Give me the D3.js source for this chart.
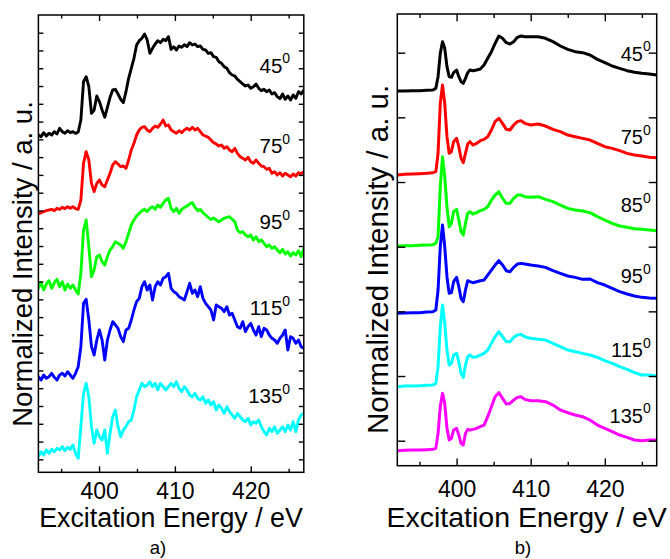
<!DOCTYPE html>
<html><head><meta charset="utf-8">
<script src="https://cdn.jsdelivr.net/npm/d3@7"></script>
<style>
body{margin:0;background:#fff}
svg{display:block}
text{font-family:"Liberation Sans",Arial,Helvetica,sans-serif;fill:#000}
</style></head><body>
<svg id="chart" width="670" height="559"></svg>
<script>
// ---------- DATA ----------
// panel a: energy grid (eV) and noisy spectra (arbitrary units, stacked)
const energyA = d3.range(0, 101).map(i => +(392 + 0.35 * i).toFixed(2));
const a45 = [1055,1050,1062,1052,1060,1055,1065,1058,1075,1065,
 1060,1068,1062,1065,1060,1064,1100,1215,1230,1200,
 1120,1130,1172,1155,1130,1108,1138,1168,1190,1192,
 1178,1162,1152,1185,1225,1255,1285,1325,1338,1345,
 1358,1340,1300,1315,1328,1338,1332,1342,1338,1350,
 1312,1320,1310,1322,1318,1326,1320,1332,1325,1328,
 1320,1322,1312,1310,1300,1302,1290,1288,1275,1270,
 1260,1255,1242,1235,1232,1222,1215,1208,1202,1205,
 1195,1200,1208,1195,1188,1192,1185,1190,1178,1182,
 1170,1164,1178,1162,1172,1160,1175,1165,1185,1178,
 1190];
const a75 = [818,822,825,828,830,832,828,835,832,838,
 834,840,835,840,834,832,860,970,1005,980,
 910,885,910,920,905,900,920,940,965,975,
 968,960,962,955,980,1010,1030,1055,1070,1078,
 1080,1070,1065,1075,1082,1078,1088,1100,1082,1085,
 1070,1065,1060,1068,1062,1070,1075,1070,1078,1070,
 1075,1065,1055,1052,1048,1040,1032,1028,1022,1025,
 1015,1020,1010,1005,1015,1000,990,985,980,988,
 975,970,980,970,962,960,952,955,940,945,
 935,942,932,940,935,930,938,932,942,938,
 945];
const a95 = [595,612,590,608,618,595,612,622,600,615,
 590,608,595,605,590,578,640,770,800,720,
 630,650,690,695,675,665,690,710,720,735,
 730,725,715,735,760,785,800,812,820,828,
 832,825,835,840,832,845,838,850,860,865,
 835,825,835,820,832,838,842,848,852,838,
 828,832,822,815,808,802,806,800,795,800,
 805,808,810,802,795,770,762,765,755,750,
 755,740,750,735,740,730,720,725,715,720,
 710,702,712,698,705,692,702,695,708,690,
 715];
const a115 = [330,320,335,325,330,340,328,320,335,340,
 332,345,335,325,340,360,420,550,562,500,
 420,395,440,470,440,380,440,470,495,485,
 475,450,435,470,475,500,530,555,565,600,
 615,590,605,560,600,615,605,625,630,640,
 595,585,580,570,565,560,585,610,580,590,
 570,600,565,550,540,530,500,545,540,535,
 525,540,515,520,500,480,475,495,465,480,
 490,470,455,480,450,475,470,455,445,440,
 430,445,455,470,410,450,445,430,440,420,
 415];
const a135 = [90,105,95,110,100,112,105,115,110,120,
 108,118,112,125,100,85,180,280,310,270,
 180,130,170,150,140,170,100,160,210,230,
 180,150,170,180,195,200,230,270,290,310,
 300,305,315,300,310,290,310,300,290,300,
 310,300,315,295,285,300,290,275,270,280,
 265,260,270,250,260,245,255,230,245,235,
 220,240,225,215,205,220,210,200,195,205,
 185,195,190,200,180,165,155,175,165,180,
 160,170,180,165,185,170,195,165,200,215,
 220];

// panel b: energy grid (eV) and spectra
const energyB = [392,393,394,395,396,396.8,397.2,397.5,397.8,398.1,
 398.4,398.7,399,399.3,399.6,400,400.3,400.6,400.9,401.2,
 401.5,401.8,402.2,402.7,403.2,403.7,404.2,404.7,405.2,405.7,
 406.2,406.7,407.2,407.7,408.2,408.7,409.2,410,411,412,
 413,414,415,416,417,418,419,420,421,422,
 423,424,425,426,427];
const b45 = [1187,1187,1188,1188,1189,1190,1195,1230,1300,1335,
 1315,1260,1230,1228,1242,1250,1230,1215,1210,1225,
 1242,1250,1248,1250,1253,1265,1285,1305,1330,1352,
 1345,1332,1328,1335,1348,1352,1350,1350,1350,1345,
 1335,1322,1312,1305,1302,1295,1282,1272,1262,1255,
 1248,1243,1240,1238,1235];
const b75 = [935,937,938,939,940,942,945,1000,1150,1205,
 1150,1050,1000,1005,1035,1045,1020,985,972,1000,
 1028,1035,1025,1030,1038,1042,1050,1070,1095,1105,
 1090,1072,1070,1085,1095,1098,1090,1085,1088,1082,
 1072,1065,1055,1050,1045,1040,1030,1020,1015,1008,
 1000,995,992,988,987];
const b85 = [722,723,723,724,725,726,730,750,900,990,
 930,840,780,790,825,832,800,765,755,790,
 820,825,818,822,828,832,840,860,875,885,
 865,850,850,865,875,875,870,868,870,862,
 855,845,835,830,827,822,810,800,790,782,
 778,774,772,770,768];
const b95 = [520,521,522,522,524,525,530,590,720,785,
 720,630,580,582,615,628,600,565,555,590,
 618,615,612,615,618,620,635,650,665,678,
 665,648,645,658,668,670,668,665,662,658,
 648,640,632,628,622,623,612,605,595,585,
 578,572,568,566,565];
const b115 = [300,302,302,303,304,305,310,360,480,545,
 490,410,365,370,395,400,375,340,328,365,
 390,395,388,390,395,400,410,430,450,465,
 450,435,435,448,455,457,450,445,442,440,
 430,420,410,405,400,395,388,378,370,360,
 352,342,335,335,332];
const b135 = [108,109,110,110,111,112,115,160,240,280,
 250,175,140,145,170,175,155,130,125,160,
 172,170,172,175,180,185,210,240,270,282,
 265,248,250,260,268,270,262,258,258,255,
 245,230,222,215,210,200,185,175,165,155,
 148,140,138,140,140];

const anglesA = ["45","75","95","115","135"];
const anglesB = ["45","75","85","95","115","135"];
const xMajorTicks = [400, 410, 420];
const xMinorTicks = [395, 405, 415, 425];
const xTickLabels = ["400", "410", "420"];
const yTicksA = d3.range(25).map(k => 82 + 53.33 * k);
const yTicksB = d3.range(7).map(k => 138 + 194 * k);
// label anchors (energy, intensity) for the angle annotations
const labelPosA = [[425.2,1242],[425.2,1000],[425.2,772],[425.2,515],[425.2,250]];
const labelPosB = [[426.2,1278],[426.2,1027],[426.2,823],[426.2,610],[426.2,388],[426.2,192]];

const colorsA = ["#000000","#ff0000","#00ff00","#0000ff","#00ffff"];
const colorsB = ["#000000","#ff0000","#00ff00","#0000ff","#00ffff","#ff00ff"];

// ---------- DRAW ----------
const svg = d3.select("#chart");

function panel(cfg) {
  const x = d3.scaleLinear().domain([392, 427]).range(cfg.xr);
  const y = d3.scaleLinear().domain(cfg.yd).range(cfg.yr);
  const g = svg.append("g");
  const clipId = "clip" + cfg.id;
  svg.append("defs").append("clipPath").attr("id", clipId)
    .append("rect").attr("x", cfg.xr[0]).attr("y", cfg.yr[1])
    .attr("width", cfg.xr[1] - cfg.xr[0]).attr("height", cfg.yr[0] - cfg.yr[1]);

  const line = d3.line().x(d => x(d[0])).y(d => y(d[1]));
  const cg = g.append("g").attr("clip-path", `url(#${clipId})`);
  cfg.series.forEach((vals, i) => {
    cg.append("path")
      .datum(cfg.energy.map((e, j) => [e, vals[j]]))
      .attr("d", line)
      .attr("fill", "none")
      .attr("stroke", cfg.colors[i])
      .attr("stroke-width", cfg.lw)
      .attr("stroke-linejoin", "round")
      .attr("stroke-linecap", "round");
  });

  const clean = sel => { sel.select(".domain").remove(); sel.selectAll(".tick line").attr("stroke-width", 1.4); };
  // bottom
  g.append("g").attr("transform", `translate(0,${cfg.yr[0]})`)
    .call(d3.axisBottom(x).tickValues(xMajorTicks).tickSize(-cfg.major).tickPadding(cfg.pad)
      .tickFormat((d, i) => xTickLabels[i]))
    .call(clean)
    .call(s => s.selectAll("text").attr("font-size", cfg.tickFs).attr("font-family", "Liberation Sans, Arial, sans-serif"));
  g.append("g").attr("transform", `translate(0,${cfg.yr[0]})`)
    .call(d3.axisBottom(x).tickValues(xMinorTicks).tickSize(-cfg.minor).tickFormat(""))
    .call(clean);
  // top
  g.append("g").attr("transform", `translate(0,${cfg.yr[1]})`)
    .call(d3.axisTop(x).tickValues(xMajorTicks).tickSize(-cfg.major).tickFormat(""))
    .call(clean);
  g.append("g").attr("transform", `translate(0,${cfg.yr[1]})`)
    .call(d3.axisTop(x).tickValues(xMinorTicks).tickSize(-cfg.minor).tickFormat(""))
    .call(clean);
  // left / right
  g.append("g").attr("transform", `translate(${cfg.xr[0]},0)`)
    .call(d3.axisLeft(y).tickValues(cfg.yTicks).tickSize(-cfg.ylen).tickFormat(""))
    .call(clean);
  g.append("g").attr("transform", `translate(${cfg.xr[1]},0)`)
    .call(d3.axisRight(y).tickValues(cfg.yTicks).tickSize(-cfg.ylen).tickFormat(""))
    .call(clean);
  // frame
  g.append("rect").attr("x", cfg.xr[0]).attr("y", cfg.yr[1])
    .attr("width", cfg.xr[1] - cfg.xr[0]).attr("height", cfg.yr[0] - cfg.yr[1])
    .attr("fill", "none").attr("stroke", "#000").attr("stroke-width", 1.5);

  // angle labels
  cfg.angles.forEach((a, i) => {
    const t = g.append("text")
      .attr("x", x(cfg.labelPos[i][0])).attr("y", y(cfg.labelPos[i][1]))
      .attr("text-anchor", "end").attr("font-size", cfg.labFs);
    t.append("tspan").text(a);
    t.append("tspan").attr("font-size", 14).attr("dy", -9.4).text("0");
  });

  // axis titles
  g.append("text").attr("transform", `translate(${cfg.ytx},${cfg.yty}) rotate(-90)`)
    .attr("text-anchor", "middle").attr("font-size", cfg.ytFs)
    .text("Normalized Intensity / a. u.");
  g.append("text").attr("x", cfg.xtx).attr("y", cfg.xty)
    .attr("text-anchor", "middle").attr("font-size", cfg.xtFs)
    .text("Excitation Energy / eV");
  g.append("text").attr("x", cfg.letterX).attr("y", 554)
    .attr("text-anchor", "middle").attr("font-size", 18.5)
    .text(cfg.letter);
}

panel({
  id: "A", xr: [38.4, 303.8], yr: [472.3, 15], yd: [43.1, 1415],
  energy: energyA, series: [a45, a75, a95, a115, a135], colors: colorsA, lw: 2.9,
  yTicks: yTicksA, major: 6, minor: 3.5, ylen: 5, pad: 9.9, tickFs: 23,
  angles: anglesA, labelPos: labelPosA, labFs: 20.5,
  ytx: 32, yty: 264, ytFs: 27.5, xtx: 171, xty: 527, xtFs: 26.8,
  letter: "a)", letterX: 158
});
panel({
  id: "B", xr: [397.3, 656.7], yr: [465.7, 14], yd: [63, 1418],
  energy: energyB, series: [b45, b75, b85, b95, b115, b135], colors: colorsB, lw: 3,
  yTicks: yTicksB, major: 7.3, minor: 4, ylen: 8, pad: 14.5, tickFs: 23,
  angles: anglesB, labelPos: labelPosB, labFs: 20,
  ytx: 388, yty: 259.5, ytFs: 29.5, xtx: 526.7, xty: 527, xtFs: 28.5,
  letter: "b)", letterX: 523
});
</script>
</body></html>
